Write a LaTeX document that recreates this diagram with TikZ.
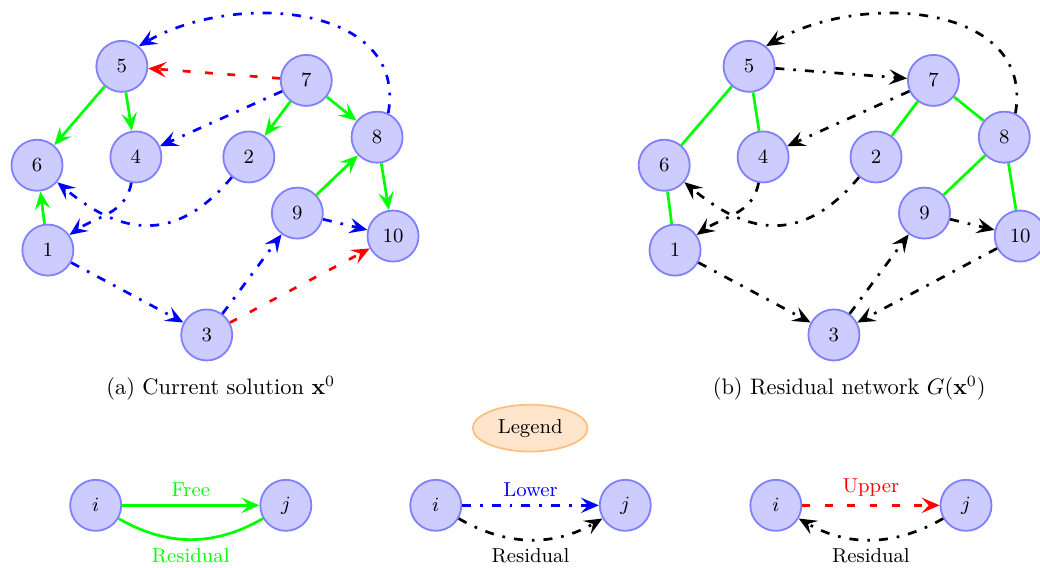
\documentclass[tikz,border=0pt]{standalone}
\usepackage{amsmath}
\usepackage{xcolor}
\usepackage{tikz}
\usetikzlibrary{arrows.meta, shapes.geometric}

\tikzset{
    vertex/.style={circle, draw=blue!50, fill=blue!20, thick, minimum size=0.8cm, inner sep=0pt, font=\small},
    freearc/.style={draw=green, very thick},
    lowarc/.style={draw=blue, very thick, dash pattern=on 4pt off 4pt on \pgflinewidth off 4pt},
    upparc/.style={draw=red, very thick, dash pattern=on 3.5pt off 6.5pt},
    resarc/.style={draw=black, very thick, dash pattern=on 4pt off 4pt on \pgflinewidth off 4pt},
    >={Stealth[length=2.8mm, width=2.4mm, inset=1.1mm]}
}

\begin{document}
\begin{tikzpicture}
    \useasboundingbox (0,0) rectangle (16.30,8.89);

    % current solution
    \node[vertex] (a5) at (1.91,7.85) {5};
    \node[vertex] (a7) at (4.80,7.63) {7};
    \node[vertex] (a6) at (0.58,6.30) {6};
    \node[vertex] (a4) at (2.13,6.43) {4};
    \node[vertex] (a2) at (3.90,6.43) {2};
    \node[vertex] (a8) at (5.91,6.74) {8};
    \node[vertex] (a9) at (4.66,5.55) {9};
    \node[vertex] (a10) at (6.16,5.19) {10};
    \node[vertex] (a1) at (0.75,4.97) {1};
    \node[vertex] (a3) at (3.24,3.64) {3};

    \draw[->, freearc] (a5) -- (a6);
    \draw[->, freearc] (a5) -- (a4);
    \draw[->, freearc] (a7) -- (a2);
    \draw[->, freearc] (a7) -- (a8);
    \draw[->, freearc] (a9) -- (a8);
    \draw[->, freearc] (a8) -- (a10);
    \draw[->, freearc] (a1) -- (a6);
    \draw[->, upparc] (a7) -- (a5);
    \draw[->, upparc] (a3) -- (a10);
    \draw[->, lowarc] (a8.65) to[out=80, in=30, looseness=1.1] (a5.50);
    \draw[->, lowarc] (a7) -- (a4);
    \draw[->, lowarc] (a4) to[out=260, in=35] (a1);
    \draw[->, lowarc] (a2) to[out=230, in=-40, looseness=1.25] (a6);
    \draw[->, lowarc] (a1) -- (a3);
    \draw[->, lowarc] (a3) -- (a9);
    \draw[->, lowarc] (a9) -- (a10);

    \node (capa) at (3.46,2.81) {(a) Current solution $\mathbf{x}^0$};

    % residual network
    \begin{scope}[xshift=9.83cm]
        \node[vertex] (b5) at (1.91,7.85) {5};
        \node[vertex] (b7) at (4.80,7.63) {7};
        \node[vertex] (b6) at (0.58,6.30) {6};
        \node[vertex] (b4) at (2.13,6.43) {4};
        \node[vertex] (b2) at (3.90,6.43) {2};
        \node[vertex] (b8) at (5.91,6.74) {8};
        \node[vertex] (b9) at (4.66,5.55) {9};
        \node[vertex] (b10) at (6.16,5.19) {10};
        \node[vertex] (b1) at (0.75,4.97) {1};
        \node[vertex] (b3) at (3.24,3.64) {3};

        \draw[freearc] (b5) -- (b6);
        \draw[freearc] (b5) -- (b4);
        \draw[freearc] (b7) -- (b2);
        \draw[freearc] (b7) -- (b8);
        \draw[freearc] (b8) -- (b9);
        \draw[freearc] (b8) -- (b10);
        \draw[freearc] (b6) -- (b1);
        \draw[->, resarc] (b8.65) to[out=80, in=30, looseness=1.1] (b5.50);
        \draw[->, resarc] (b5) -- (b7);
        \draw[->, resarc] (b7) -- (b4);
        \draw[->, resarc] (b4) to[out=260, in=35] (b1);
        \draw[->, resarc] (b2) to[out=230, in=-40, looseness=1.25] (b6);
        \draw[->, resarc] (b1) -- (b3);
        \draw[->, resarc] (b3) -- (b9);
        \draw[->, resarc] (b9) -- (b10);
        \draw[->, resarc] (b10) -- (b3);

        \node (capb) at (3.48,2.81) {(b) Residual network $G(\mathbf{x}^0)$};
    \end{scope}

    % legend
    \node[ellipse, draw=orange!50, fill=orange!20, thick, minimum width=1.8cm, minimum height=0.55cm, font=\small] (legend) at (8.31,2.18) {Legend};

    \node[vertex] (fi) at (1.50,0.97) {$i$};
    \node[vertex] (fj) at (4.48,0.97) {$j$};
    \draw[->, freearc] (fi) -- node[above, green, font=\small] (lfree) {Free} (fj);
    \draw[freearc] (fi) to[bend right=30] node[below, green, font=\small] (rfree) {Residual} (fj);

    \node[vertex] (li) at (6.83,0.97) {$i$};
    \node[vertex] (lj) at (9.80,0.97) {$j$};
    \draw[->, lowarc] (li) -- node[above, blue, font=\small] (llow) {Lower} (lj);
    \draw[->, resarc] (li) to[bend right=30] node[below, font=\small] (rlow) {Residual} (lj);

    \node[vertex] (ui) at (12.16,0.97) {$i$};
    \node[vertex] (uj) at (15.14,0.97) {$j$};
    \draw[->, upparc] (ui) -- node[above, red, font=\small] (lupp) {Upper} (uj);
    \draw[->, resarc] (uj) to[bend left=30] node[below, font=\small] (rupp) {Residual} (ui);
\end{tikzpicture}
\end{document}
